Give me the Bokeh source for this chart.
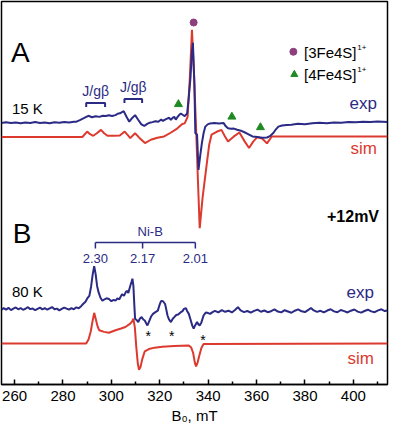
from bokeh.plotting import figure
from bokeh.models import Range1d, FixedTicker, Title
from bokeh.embed import file_html
from bokeh.resources import INLINE
from bokeh.core.properties import value

FONT = "Liberation Sans"
NAVY = "#2b2a84"
RED = "#dc3a2f"
GREEN = "#1f8a24"
PURPLE = "#8e3f7e"

# ---------------- data (B0 in mT, signal in arbitrary offset units) ----------------
tick_values = [260, 280, 300, 320, 340, 360, 380, 400]
tick_labels = ["260", "280", "300", "320", "340", "360", "380", "400"]
minor_values = [270, 290, 310, 330, 350, 370, 390, 410]
x_title = "B\u2080, mT"

# Panel A, 15 K, experimental
expA_field = [254.6, 256.5, 258.5, 260.5, 262.5, 264.5, 266.5, 268.5, 270.5, 272.5,
              274.5, 276.5, 278.5, 280.5, 282.5, 284.5, 285.6, 287.2, 288.8, 290.5,
              292.0, 293.5, 295.0, 296.5, 297.7, 299.0, 300.3, 301.7, 302.6, 303.5,
              304.4, 305.1, 306.2, 307.4, 308.6, 309.8, 311.0, 312.4, 313.6, 314.8,
              315.9, 317.0, 318.2, 319.4, 320.6, 321.3, 322.0, 323.0, 323.9, 324.6,
              325.3, 326.0, 326.6, 327.2, 328.0, 328.7, 329.6, 330.3, 331.3, 332.0,
              332.7, 333.2, 333.7, 334.3, 334.7, 335.4, 336.0, 336.7, 337.4, 338.1,
              338.8, 339.8, 340.8, 342.5, 344.5, 346.4, 347.3, 348.2, 349.5, 350.6,
              352.0, 353.5, 355.0, 356.5, 358.3, 360.3, 362.3, 364.3, 365.5, 367.0,
              368.0, 369.0, 370.5, 372.5, 374.4, 377.0, 380.0, 383.0, 386.0, 389.0,
              392.0, 395.0, 398.0, 401.0, 404.0, 407.0, 410.0, 414.1]
expA_signal = [265.5, 266.2, 265.3, 265.9, 265.1, 266.0, 265.4, 266.3, 265.5, 265.9,
               265.2, 266.1, 265.6, 266.4, 265.8, 266.6, 266.7, 268.5, 270.5, 272.7,
               271.2, 272.3, 271.6, 272.8, 272.4, 273.2, 272.5, 273.4, 274.8, 275.2,
               276.5, 277.4, 272.0, 266.7, 270.5, 273.4, 269.0, 264.0, 262.4, 264.5,
               265.7, 266.3, 267.2, 266.6, 269.0, 267.5, 268.6, 269.8, 270.7, 268.5,
               270.6, 271.7, 268.8, 271.0, 273.5, 275.0, 273.5, 272.4, 275.0, 292.0,
               311.7, 335.0, 346.7, 305.0, 255.0, 253.7, 217.7, 232.0, 245.0, 255.0,
               261.7, 264.0, 265.0, 265.4, 264.9, 265.3, 262.0, 260.0, 259.5, 259.7,
               258.5, 257.6, 256.0, 254.2, 251.7, 251.2, 250.5, 250.7, 252.0, 255.5,
               259.0, 261.7, 262.8, 263.4, 263.7, 264.6, 264.2, 265.1, 265.6, 265.2,
               266.0, 265.7, 266.4, 266.1, 266.7, 266.3, 266.8, 266.5]

# Panel A, simulated
simA_field = [254.6, 288.0, 290.0, 291.2, 292.5, 294.0, 295.7, 297.0, 298.4, 301.0,
              303.5, 305.5, 306.8, 307.8, 309.8, 311.5, 313.9, 316.3, 319.0, 321.8,
              324.5, 327.3, 329.3, 330.3, 331.5, 332.4, 333.3, 334.2, 335.0, 335.8,
              336.5, 337.7, 339.3, 340.4, 341.4, 343.5, 345.5, 346.9, 348.2, 350.5,
              352.9, 355.0, 356.9, 358.6, 360.3, 362.3, 364.3, 366.3, 414.1]
simA_signal = [251.2, 251.2, 256.7, 254.0, 252.4, 255.0, 258.4, 255.0, 252.4, 252.5,
               252.7, 256.7, 253.0, 250.0, 255.0, 250.5, 245.0, 248.4, 250.5, 251.7,
               255.5, 260.0, 264.4, 265.0, 271.7, 310.0, 360.0, 312.0, 260.0, 205.0,
               158.7, 190.0, 221.7, 243.0, 253.7, 256.5, 258.4, 252.0, 246.7, 251.5,
               255.7, 247.0, 240.0, 246.5, 251.0, 249.7, 244.7, 251.7, 251.7]

# Panel B, 80 K, experimental
expB_field = [254.6, 255.5, 256.5, 257.5, 258.5, 259.5, 260.5, 261.5, 262.5, 263.5,
              264.5, 265.5, 266.5, 267.5, 268.5, 269.5, 270.5, 271.5, 272.5, 273.5,
              274.5, 275.5, 276.5, 277.5, 278.5, 279.5, 280.5, 281.5, 282.5, 283.5,
              284.5, 285.5, 286.5, 287.5,
              288.3, 289.3, 290.2, 290.9, 291.6, 292.3, 292.9, 293.5, 294.1, 294.7,
              295.5, 296.3, 297.2, 298.0, 299.0, 300.0, 301.0, 301.7, 302.5, 303.3,
              304.4, 305.2, 306.0, 306.4, 307.0, 307.8, 308.3, 308.7, 309.1, 309.5,
              309.8, 310.4, 311.1, 311.8, 312.5, 313.2, 313.8, 314.4, 314.9, 315.6,
              316.4, 317.2, 318.2, 319.2, 319.8, 320.4, 320.8, 321.5, 322.2, 322.7,
              323.2, 323.8, 324.6, 325.3, 326.0, 326.8, 327.6, 328.7, 329.4, 330.0,
              330.8, 331.4, 332.0, 332.7, 333.4, 334.0, 334.6, 335.4, 336.0, 336.5,
              337.2, 338.1, 339.0, 340.0, 340.8, 341.8,
              342.8, 344.2, 345.6, 347.0, 348.4, 349.8, 351.2, 352.3, 353.4, 354.8,
              356.2, 357.6, 359.0, 360.4, 361.8, 363.2, 364.6, 366.0, 367.4, 368.8,
              370.2, 371.6, 373.0, 374.4, 375.8, 377.2, 378.6, 380.0, 381.4, 382.5,
              383.6, 385.0, 386.4, 387.8, 389.2, 390.6, 392.0, 393.4, 394.8, 396.2,
              397.6, 399.0, 400.4, 401.8, 403.2, 404.6, 406.0, 407.4, 408.8, 410.2,
              411.6, 413.0, 414.1]
expB_signal = [76.0, 77.5, 76.0, 77.8, 75.5, 77.0, 78.2, 76.3, 77.6, 75.8,
               76.9, 78.5, 76.5, 77.2, 75.4, 76.8, 78.0, 76.2, 77.5, 75.9,
               77.3, 78.6, 76.4, 77.0, 75.2, 76.7, 78.1, 77.0, 76.0, 77.6,
               76.3, 78.3, 77.4, 79.5,
               81.7, 84.0, 88.0, 90.0, 99.0, 112.0, 120.0, 112.0, 100.0, 93.7,
               88.0, 85.0, 86.5, 87.5, 86.7, 84.6, 86.0, 85.0, 87.5, 86.5,
               91.7, 90.0, 94.0, 95.0, 93.0, 100.0, 104.0, 107.4, 100.0, 80.0,
               66.7, 65.5, 63.4, 67.0, 68.4, 66.0, 65.0, 62.0, 60.0, 64.0,
               69.0, 71.7, 73.5, 75.0, 80.0, 84.0, 85.0, 84.0, 81.7, 76.0,
               70.0, 66.0, 63.4, 66.5, 68.4, 70.5, 71.0, 73.4, 74.5, 76.7,
               77.5, 74.0, 71.7, 66.0, 60.0, 56.7, 60.0, 63.4, 61.0, 60.0,
               63.0, 70.0, 73.0, 72.5, 71.7, 73.5,
               74.8, 73.2, 75.5, 73.8, 74.9, 73.1, 75.8, 78.5, 75.2, 73.5,
               74.6, 72.9, 74.7, 76.0, 73.8, 75.1, 73.4, 74.4, 76.3, 74.0,
               73.2, 75.4, 74.1, 72.8, 74.9, 76.2, 74.3, 73.5, 75.8, 77.6,
               75.2, 73.7, 74.8, 73.2, 75.1, 76.4, 74.2, 73.3, 75.6, 74.5,
               73.1, 74.9, 76.1, 74.0, 72.9, 74.6, 75.9, 74.2, 73.4, 75.2,
               76.3, 74.5, 75.0]

# Panel B, simulated
simB_field = [254.6, 289.6, 290.6, 291.5, 292.2, 292.9, 293.6, 294.3, 295.0, 297.0,
              299.0, 301.7, 304.0, 305.8, 307.8, 308.6, 309.1, 309.7, 310.3, 310.9,
              311.4, 312.0, 312.8, 313.8, 315.5, 317.9, 321.0, 326.0, 332.0, 333.0,
              333.8, 334.5, 335.0, 335.6, 336.4, 337.2, 338.1, 414.1]
simB_signal = [41.7, 41.7, 46.0, 54.0, 64.0, 72.7, 66.0, 59.0, 55.0, 53.4,
               52.5, 55.0, 56.8, 58.4, 61.7, 64.0, 66.7, 58.0, 38.0, 22.0,
               15.0, 17.5, 26.0, 33.7, 36.0, 37.4, 38.3, 39.0, 39.5, 37.5,
               32.0, 22.0, 18.4, 22.0, 30.0, 37.0, 41.0, 41.7]

assert len(expA_field) == len(expA_signal)
assert len(simA_field) == len(simA_signal)
assert len(expB_field) == len(expB_signal)
assert len(simB_field) == len(simB_signal)

# Ni-B g-values
nib_field = [293.4, 312.9, 334.7]
nib_labels = ["2.30", "2.17", "2.01"]
# J/g-beta brackets (start, end)
jgb_start = [289.6, 305.4]
jgb_end = [297.4, 312.7]
# [4Fe4S]1+ markers, [3Fe4S]1+ marker, asterisks
fe4_field = [327.7, 349.8, 361.6]
fe4_signal = [284.4, 271.7, 261.0]
fe3_field = [334.0]
fe3_signal = [367.4]
star_field = [315.2, 324.9, 337.8]
star_signal = [52.4, 52.4, 48.4]

# ---------------- figure ----------------
p = figure(width=389, height=424, x_range=Range1d(254.6, 414.1), y_range=Range1d(0, 388.7),
           output_backend="svg", toolbar_location=None, y_axis_location=None,
           min_border_left=1, min_border_right=2, min_border_top=1, min_border_bottom=0)
p.grid.visible = False
p.outline_line_color = "black"
p.outline_line_width = 1.5
p.outline_line_alpha = 1.0
p.background_fill_color = "white"
p.border_fill_color = "white"

ax = p.xaxis[0]
ax.ticker = FixedTicker(ticks=tick_values, minor_ticks=minor_values)
ax.major_label_overrides = dict(zip(tick_values, tick_labels))
ax.major_tick_in = 5
ax.major_tick_out = 0
ax.minor_tick_in = 3
ax.minor_tick_out = 0
ax.major_tick_line_width = 1.5
ax.minor_tick_line_width = 1.5
ax.axis_line_width = 1.5
ax.major_label_text_font = FONT
ax.major_label_text_font_size = "15px"
ax.major_label_text_color = "black"
ax.major_label_standoff = 6

p.add_layout(Title(text=x_title, align="center", offset=-3, standoff=2,
                   text_font=FONT, text_font_size="15px", text_font_style="normal",
                   text_color="black"), "below")

# spectra
p.line(simA_field, simA_signal, line_color=RED, line_width=2)
p.line(expA_field, expA_signal, line_color=NAVY, line_width=2)
p.line(simB_field, simB_signal, line_color=RED, line_width=2)
p.line(expB_field, expB_signal, line_color=NAVY, line_width=2)

# J/g-beta brackets
jy_top = [285.7, 289.7]
jxs = [[s, s, e, e] for s, e in zip(jgb_start, jgb_end)]
jys = [[t - 4, t, t, t - 4] for t in jy_top]
p.multi_line(jxs, jys, line_color=NAVY, line_width=2)
p.text(x=[(s + e) / 2 for s, e in zip(jgb_start, jgb_end)], y=[t + 12 for t in jy_top],
       text=["J/g\u03b2", "J/g\u03b2"], text_font=value(FONT), text_font_size=value("14px"),
       text_color=NAVY, text_align="center", text_baseline="middle")

# Ni-B bracket
nib_y = 144.0
p.line([nib_field[0], nib_field[-1]], [nib_y, nib_y], line_color=NAVY, line_width=1.5)
p.multi_line([[f, f] for f in nib_field], [[nib_y, nib_y - 6] for f in nib_field],
             line_color=NAVY, line_width=1.5)
p.text(x=[(nib_field[0] + nib_field[-1]) / 2 + 2], y=[155.5], text=["Ni-B"],
       text_font=value(FONT), text_font_size=value("13px"), text_color=NAVY,
       text_align="center", text_baseline="middle")
p.text(x=nib_field, y=[127.4] * 3, text=nib_labels, text_font=value(FONT),
       text_font_size=value("13px"), text_color=NAVY, text_align="center", text_baseline="middle")

# markers
p.scatter(fe4_field, fe4_signal, marker="triangle", size=8, fill_color=GREEN, line_color=GREEN)
p.scatter(fe3_field, fe3_signal, marker="circle", size=7, fill_color=PURPLE, line_color=PURPLE)
p.text(x=star_field, y=[s - 3 for s in star_signal], text=["*"] * 3, text_font=value(FONT),
       text_font_size=value("14px"), text_color="black", text_align="center", text_baseline="middle")

# legend
p.scatter([375.2], [337.7], marker="circle", size=7, fill_color=PURPLE, line_color=PURPLE)
p.scatter([375.6], [314.7], marker="triangle", size=7, fill_color=GREEN, line_color=GREEN)
p.text(x=[379.6, 379.6], y=[336.7, 314.2], text=["[3Fe4S]", "[4Fe4S]"], text_font=value(FONT),
       text_font_size=value("15px"), text_color="black", text_align="left", text_baseline="middle")
p.text(x=[401.6, 401.6], y=[342.0, 319.5], text=["1+", "1+"], text_font=value(FONT),
       text_font_size=value("8px"), text_color="black", text_align="left", text_baseline="middle")

# panel letters and labels
p.text(x=[258.5, 259.3], y=[336.7, 153.7], text=["A", "B"], text_font=value(FONT),
       text_font_size=value("28px"), text_color="black", text_align="left", text_baseline="middle")
p.text(x=[258.9, 258.9], y=[279.7, 94.4], text=["15 K", "80 K"], text_font=value(FONT),
       text_font_size=value("15px"), text_color="black", text_align="left", text_baseline="middle")
p.text(x=[409.7, 408.5], y=[284.7, 93.4], text=["exp", "exp"], text_font=value(FONT),
       text_font_size=value("17px"), text_color=NAVY, text_align="right", text_baseline="middle")
p.text(x=[409.7, 408.5], y=[239.7, 26.7], text=["sim", "sim"], text_font=value(FONT),
       text_font_size=value("17px"), text_color=RED, text_align="right", text_baseline="middle")
p.text(x=[410.6], y=[170.0], text=["+12mV"], text_font=value(FONT), text_font_size=value("16px"),
       text_font_style="bold", text_color="black", text_align="right", text_baseline="middle")

open("out.html", "w").write(file_html(p, INLINE))
